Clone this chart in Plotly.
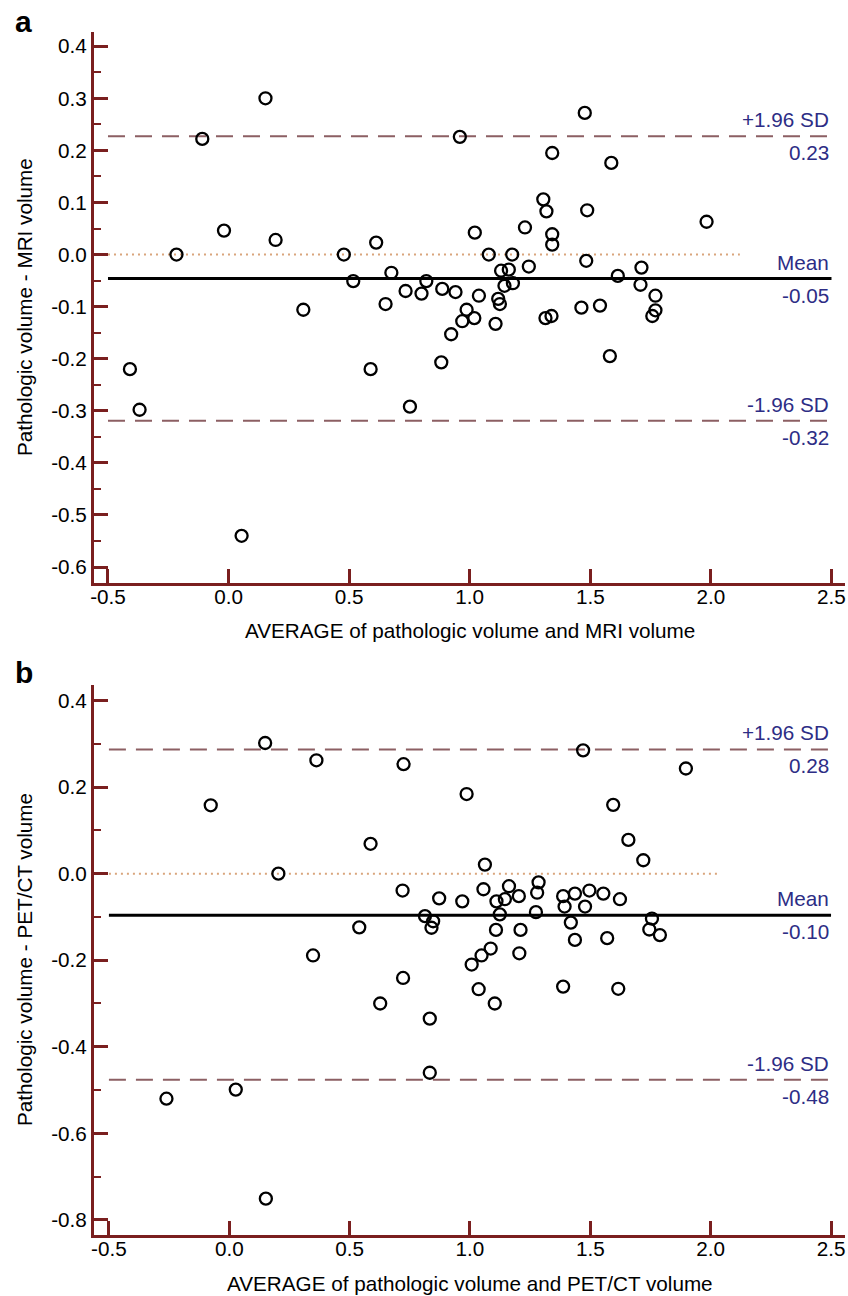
import plotly.graph_objects as go

# ---------------- data ----------------
# Panel a: average vs difference (MRI)
a_avg = [0.153, -0.109, -0.019, 0.195, -0.216, 0.478, 0.612, 0.517, 0.675, 0.651,
         0.310, -0.409, -0.369, 0.589, 0.054, 1.982, 1.477, 0.959, 1.342, 1.587,
         1.305, 1.318, 1.487, 1.229, 1.021, 1.342, 1.342, 1.079, 1.176, 1.245,
         1.483, 1.130, 1.162, 0.820, 1.144, 1.179, 1.614, 1.712, 1.708, 0.734,
         0.800, 0.886, 0.941, 1.038, 1.118, 1.125, 1.770, 1.770, 1.757, 1.463,
         1.540, 0.987, 0.969, 1.019, 1.107, 1.314, 1.339, 0.923, 0.882, 1.581,
         0.752]
a_diff = [0.300, 0.222, 0.046, 0.028, 0.000, 0.000, 0.023, -0.051, -0.035, -0.095,
          -0.106, -0.220, -0.298, -0.220, -0.540, 0.063, 0.272, 0.226, 0.195, 0.176,
          0.106, 0.083, 0.085, 0.052, 0.042, 0.039, 0.019, 0.000, 0.000, -0.023,
          -0.012, -0.031, -0.029, -0.051, -0.060, -0.055, -0.041, -0.025, -0.058, -0.070,
          -0.075, -0.066, -0.072, -0.079, -0.085, -0.095, -0.079, -0.107, -0.118, -0.102,
          -0.098, -0.106, -0.128, -0.122, -0.133, -0.122, -0.118, -0.153, -0.207, -0.195,
          -0.292]
a_mean = -0.046
a_upper = 0.227
a_lower = -0.319
a_mean_label = "-0.05"
a_upper_label = "0.23"
a_lower_label = "-0.32"
a_zero_end = 2.12

# Panel b: average vs difference (PET/CT)
b_avg = [0.149, 0.362, 0.724, -0.077, 0.986, 0.587, 0.204, 1.062, 0.720, 0.872,
         0.968, 1.056, 1.162, 1.110, 1.145, 1.203, 1.285, 1.279, 1.387, 1.436,
         1.393, 0.813, 0.847, 0.840, 1.124, 1.274, 0.540, 1.108, 1.210, 1.419,
         1.436, 0.348, 1.086, 1.048, 1.007, 1.205, 0.722, 1.036, 1.387, 0.627,
         1.103, 0.833, 0.833, 1.470, 1.897, 1.595, 1.658, 1.720, 1.496, 1.554,
         1.623, 1.478, 1.570, 1.756, 1.745, 1.789, 1.616, -0.261, 0.027, 0.152]
b_diff = [0.302, 0.262, 0.253, 0.158, 0.184, 0.069, 0.000, 0.021, -0.039, -0.057,
          -0.064, -0.036, -0.029, -0.064, -0.059, -0.052, -0.020, -0.044, -0.052, -0.046,
          -0.076, -0.098, -0.110, -0.125, -0.094, -0.089, -0.124, -0.130, -0.130, -0.113,
          -0.153, -0.189, -0.173, -0.189, -0.210, -0.184, -0.241, -0.267, -0.261, -0.300,
          -0.300, -0.335, -0.460, 0.285, 0.243, 0.159, 0.078, 0.031, -0.039, -0.046,
          -0.059, -0.076, -0.149, -0.104, -0.129, -0.142, -0.266, -0.520, -0.499, -0.751]
b_mean = -0.096
b_upper = 0.287
b_lower = -0.476
b_mean_label = "-0.10"
b_upper_label = "0.28"
b_lower_label = "-0.48"
b_zero_end = 2.035

x_tickvals = [-0.5, 0.0, 0.5, 1.0, 1.5, 2.0, 2.5]
x_ticktext = ["-0.5", "0.0", "0.5", "1.0", "1.5", "2.0", "2.5"]
a_tickvals = [0.4, 0.3, 0.2, 0.1, 0.0, -0.1, -0.2, -0.3, -0.4, -0.5, -0.6]
a_ticktext = ["0.4", "0.3", "0.2", "0.1", "0.0", "-0.1", "-0.2", "-0.3", "-0.4", "-0.5", "-0.6"]
b_tickvals = [0.4, 0.2, 0.0, -0.2, -0.4, -0.6, -0.8]
b_ticktext = ["0.4", "0.2", "0.0", "-0.2", "-0.4", "-0.6", "-0.8"]

a_xtitle = "AVERAGE of pathologic volume and MRI volume"
a_ytitle = "Pathologic volume - MRI volume"
b_xtitle = "AVERAGE of pathologic volume and PET/CT volume"
b_ytitle = "Pathologic volume - PET/CT volume"

line_x = [-0.5, 2.5]

# ---------------- style ----------------
W, H = 848, 1296
FONT = "Liberation Sans, Arial, sans-serif"
AXIS_COLOR = "#7a1f1f"
DASH_COLOR = "#8c5f63"
ZERO_COLOR = "#d9a57c"
LABEL_COLOR = "#2d2d85"
FS = 20.7

fig = go.Figure()


def add_panel(xa, ya, avg, diff, mean, upper, lower, zero_end):
    fig.add_trace(go.Scatter(x=[-0.5, zero_end], y=[0, 0], mode="lines",
                             line=dict(color=ZERO_COLOR, width=2, dash="2px,4px"),
                             xaxis=xa, yaxis=ya, hoverinfo="skip"))
    for v in (upper, lower):
        fig.add_trace(go.Scatter(x=line_x, y=[v, v], mode="lines",
                                 line=dict(color=DASH_COLOR, width=2, dash="17px,10px"),
                                 xaxis=xa, yaxis=ya, hoverinfo="skip"))
    fig.add_trace(go.Scatter(x=line_x, y=[mean, mean], mode="lines",
                             line=dict(color="black", width=3),
                             xaxis=xa, yaxis=ya, hoverinfo="skip"))
    fig.add_trace(go.Scatter(x=avg, y=diff, mode="markers",
                             marker=dict(symbol="circle-open", size=12, color="black",
                                         line=dict(width=2.3, color="black")),
                             xaxis=xa, yaxis=ya))


add_panel("x", "y", a_avg, a_diff, a_mean, a_upper, a_lower, a_zero_end)
add_panel("x2", "y2", b_avg, b_diff, b_mean, b_upper, b_lower, b_zero_end)

xdom = [94 / W, 845 / W]
a_ydom = [1 - 583 / H, 1 - 32 / H]
b_ydom = [1 - 1235 / H, 1 - 685 / H]

axis_common = dict(showline=True, linecolor=AXIS_COLOR, linewidth=3, mirror=False,
                   ticks="inside", ticklen=14, tickwidth=2.5, tickcolor=AXIS_COLOR,
                   showgrid=False, zeroline=False, automargin=False,
                   tickfont=dict(family=FONT, size=FS, color="black"))

fig.update_layout(
    width=W, height=H,
    margin=dict(l=0, r=0, t=0, b=0, autoexpand=False),
    paper_bgcolor="white", plot_bgcolor="white",
    showlegend=False,
    font=dict(family=FONT, size=FS, color="black"),
    xaxis=dict(domain=xdom, anchor="y", range=[-0.558, 2.556],
               tickvals=x_tickvals, ticktext=x_ticktext, ticklabelstandoff=-7,
               **axis_common),
    yaxis=dict(domain=a_ydom, anchor="x", range=[-0.6306, 0.4273],
               tickvals=a_tickvals, ticktext=a_ticktext,
               minor=dict(dtick=0.05, tick0=0, ticks="inside", ticklen=7, tickwidth=2,
                          tickcolor=AXIS_COLOR, showgrid=False),
               **axis_common),
    xaxis2=dict(domain=xdom, anchor="y2", range=[-0.562, 2.558],
                tickvals=x_tickvals, ticktext=x_ticktext, ticklabelstandoff=-7,
                **axis_common),
    yaxis2=dict(domain=b_ydom, anchor="x2", range=[-0.835, 0.436],
                tickvals=b_tickvals, ticktext=b_ticktext,
                minor=dict(dtick=0.1, tick0=0, ticks="inside", ticklen=7, tickwidth=2,
                           tickcolor=AXIS_COLOR, showgrid=False),
                **axis_common),
)

annos = []
for xref, yref, mean, upper, lower, ml, ul, ll in (
        ("x", "y", a_mean, a_upper, a_lower, a_mean_label, a_upper_label, a_lower_label),
        ("x2", "y2", b_mean, b_upper, b_lower, b_mean_label, b_upper_label, b_lower_label)):
    for v, top_txt, bot_txt in ((upper, "+1.96 SD", ul), (mean, "Mean", ml), (lower, "-1.96 SD", ll)):
        annos.append(dict(x=2.5, y=v, xref=xref, yref=yref, text=top_txt, showarrow=False,
                          xanchor="right", yanchor="bottom", yshift=3,
                          font=dict(family=FONT, size=FS, color=LABEL_COLOR)))
        annos.append(dict(x=2.5, y=v, xref=xref, yref=yref, text=bot_txt, showarrow=False,
                          xanchor="right", yanchor="top", yshift=-3,
                          font=dict(family=FONT, size=FS, color=LABEL_COLOR)))

# axis titles
xcenter = (94 + 845) / 2 / W
annos.append(dict(x=xcenter, y=1 - 630 / H, xref="paper", yref="paper", text=a_xtitle,
                  showarrow=False, xanchor="center", yanchor="middle",
                  font=dict(family=FONT, size=FS, color="black")))
annos.append(dict(x=xcenter, y=1 - 1283 / H, xref="paper", yref="paper", text=b_xtitle,
                  showarrow=False, xanchor="center", yanchor="middle",
                  font=dict(family=FONT, size=FS, color="black")))
annos.append(dict(x=24 / W, y=1 - 307 / H, xref="paper", yref="paper", text=a_ytitle,
                  showarrow=False, xanchor="center", yanchor="middle", textangle=-90,
                  font=dict(family=FONT, size=FS, color="black")))
annos.append(dict(x=24 / W, y=1 - 960 / H, xref="paper", yref="paper", text=b_ytitle,
                  showarrow=False, xanchor="center", yanchor="middle", textangle=-90,
                  font=dict(family=FONT, size=FS, color="black")))

# panel letters
annos.append(dict(x=13 / W, y=1 - 22 / H, xref="paper", yref="paper", text="<b>a</b>",
                  showarrow=False, xanchor="left", yanchor="middle",
                  font=dict(family=FONT, size=30, color="black")))
annos.append(dict(x=13 / W, y=1 - 672 / H, xref="paper", yref="paper", text="<b>b</b>",
                  showarrow=False, xanchor="left", yanchor="middle",
                  font=dict(family=FONT, size=30, color="black")))
fig.update_layout(annotations=annos)

fig.write_html("out.html",
               config={"displayModeBar": False},
               post_script="document.body.style.margin='0';document.body.style.padding='0';")
